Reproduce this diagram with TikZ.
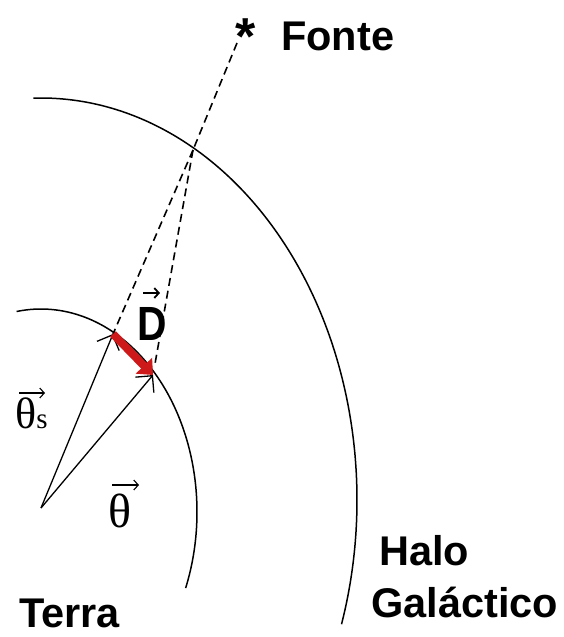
\documentclass[tikz,border=0pt]{standalone}
\usepackage{fontspec}
\usepackage{graphicx}
\setmainfont{Liberation Sans}
\newfontfamily\serifg{Liberation Serif}
\usetikzlibrary{arrows.meta}
\definecolor{dred}{RGB}{205,25,25}
\begin{document}
\begin{tikzpicture}[x=1pt,y=-1pt,
  curve/.style={line width=1.5pt, black},
  vecline/.style={line width=1.3pt, black, -{Straight Barb[angle=90:17pt]}},
  ray/.style={line width=1.6pt, black, dash pattern=on 8pt off 5pt},
  lbl/.style={font=\fontsize{41.5}{41.5}\selectfont\bfseries, inner sep=0pt, anchor=base west},
  glbl/.style={inner sep=0pt, anchor=base west},
  overarrow/.style={line width=1.1pt, -{Straight Barb[length=4.5pt,width=10pt]}},
  dvec/.style={line width=8pt, dred, -{Triangle[length=13pt,width=22pt]}}
]
\useasboundingbox (0,0) rectangle (564,637);

% points
\coordinate (O) at (41,508);
\coordinate (S) at (113,334);
\coordinate (T) at (153,375);
\coordinate (H) at (193,150);
\coordinate (F0) at (237,43);

% arcs
\draw[curve] plot[domain=-99:22, samples=120, smooth] ({41+156*cos(\x)},{512+203*sin(\x)});
\draw[curve] plot[domain=-91.4:18, samples=160, smooth] ({41+316*cos(\x)},{500+402*sin(\x)});

% dashed rays
\draw[ray] (F0) -- (H);
\draw[ray] (H) -- (S);
\draw[ray, shorten >=10pt] (H) -- (T);

% theta vectors
\draw[vecline] (O) -- (S);
\draw[vecline] (O) -- (T);

% D vector
\draw[dvec] (S) -- (T);

% labels
\node[lbl] (star) at (235,54) {\fontsize{52}{52}\selectfont *};
\node[lbl] (fonte) at (281,50) {Fonte};
\node[lbl] (halo) at (379,565) {Halo};
\node[lbl] (gal) at (371,617) {Galáctico};
\node[lbl] (terra) at (19,627) {Terra};

\node[glbl] (ths) at (15,428) {\serifg\fontsize{44}{44}\selectfont θ{\fontsize{29}{29}\selectfont s}};
\node[glbl] (th) at (108,527) {\serifg\fontsize{48}{48}\selectfont θ};
\node[glbl] (dl) at (137,340) {\scalebox{0.85}[1]{\fontsize{48}{48}\selectfont\bfseries D}};

\draw[overarrow] (19,393) -- (45,393);
\draw[overarrow] (112,485) -- (139,485);
\draw[overarrow, line width=1.8pt] (143,293) -- (160,293);
\end{tikzpicture}
\end{document}
